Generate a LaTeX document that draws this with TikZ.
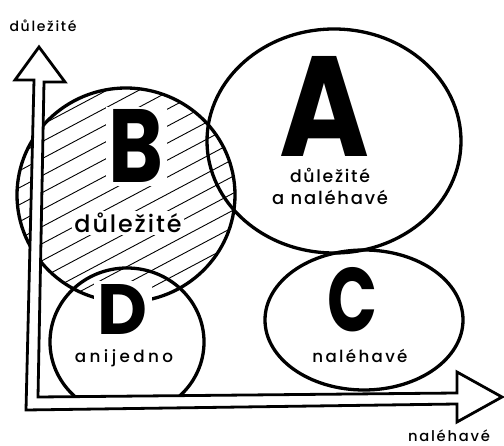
\documentclass[tikz,border=0pt]{standalone}
\usepackage{fontspec}
\setmainfont{Poppins}
\newfontfamily\labfont{Poppins Medium}
\tikzset{
  outline/.style={line width=3.3pt},
  hatchline/.style={line width=0.9pt},
  axisline/.style={line width=2.8pt, line join=miter, fill=white},
  lbl/.style={inner sep=0pt, anchor=base},
  bigletter/.style={inner sep=0pt, anchor=base, font=\bfseries},
}
\newcommand{\lab}[4]{\resizebox{#3pt}{!}{\labfont\fontsize{#1}{#1}\selectfont\addfontfeature{LetterSpace=#2}#4}}
\newcommand{\fitwh}[3]{\resizebox{#1pt}{#2pt}{#3}}
\begin{document}
\begin{tikzpicture}[x=1pt,y=-1pt]
\useasboundingbox (0,0) rectangle (504,446);
% hatching of B
\begin{scope}
  \clip (126,195) ellipse [x radius=109, y radius=107];
  \foreach \c in {96,113,...,500} \draw[hatchline] (0,\c) -- (260,\c-138);
\end{scope}
% circles
\draw[outline] (126,195) ellipse [x radius=109, y radius=107];
\draw[outline] (334,141) ellipse [x radius=127, y radius=112];
\draw[outline] (364,320) ellipse [x radius=99, y radius=70];
\begin{scope}
  \clip (0,0) rectangle (504,398);
  \draw[outline] (127,342) ellipse [x radius=77, y radius=74];
\end{scope}
% axes
\coordinate (vo) at (34,80);
\coordinate (vlw) at (15,80);
\coordinate (vtip) at (39,47);
\coordinate (vrw) at (65,82);
\coordinate (vi) at (44,82);
\coordinate (ci) at (38,397);
\coordinate (hi) at (457,393);
\coordinate (htw) at (457,372);
\coordinate (htip) at (502,397);
\coordinate (hbw) at (457,422);
\coordinate (ho) at (457,404);
\coordinate (co) at (26,410);
\draw[axisline] (vo) -- (vlw) -- (vtip) -- (vrw) -- (vi) -- (ci) -- (hi) -- (htw) -- (htip) -- (hbw) -- (ho) -- (co) -- cycle;
% labels
\node[lbl] (ylabel) at (43,32) {\lab{13.5}{12}{67}{důležité}};
\node[lbl] (xlabel) at (449,442) {\lab{16}{12}{82}{naléhavé}};
\node[bigletter] (Aletter) at (325,157) {\fitwh{90}{100}{A}};
\node[lbl] (A1) at (330,183) {\lab{16}{10}{80}{důležité}};
\node[lbl] (A2) at (330,205) {\lab{16}{10}{116}{a naléhavé}};
\node[bigletter, fill=white, inner sep=3pt] (Bletter) at (136,183) {\fitwh{55}{73}{B}};
\node[lbl, fill=white, inner sep=2pt] (B1) at (128,233) {\lab{24}{8}{107}{důležité}};
\node[bigletter, fill=white, inner sep=4pt] (Dletter) at (123,335) {\fitwh{50}{50}{D}};
\node[lbl] (D1) at (124,363) {\lab{17.5}{20}{98}{anijedno}};
\node[bigletter] (Cletter) at (353,332) {\fitwh{50}{64}{C}};
\node[lbl] (C1) at (360,363) {\lab{17.5}{14}{95}{naléhavé}};
\end{tikzpicture}
\end{document}
